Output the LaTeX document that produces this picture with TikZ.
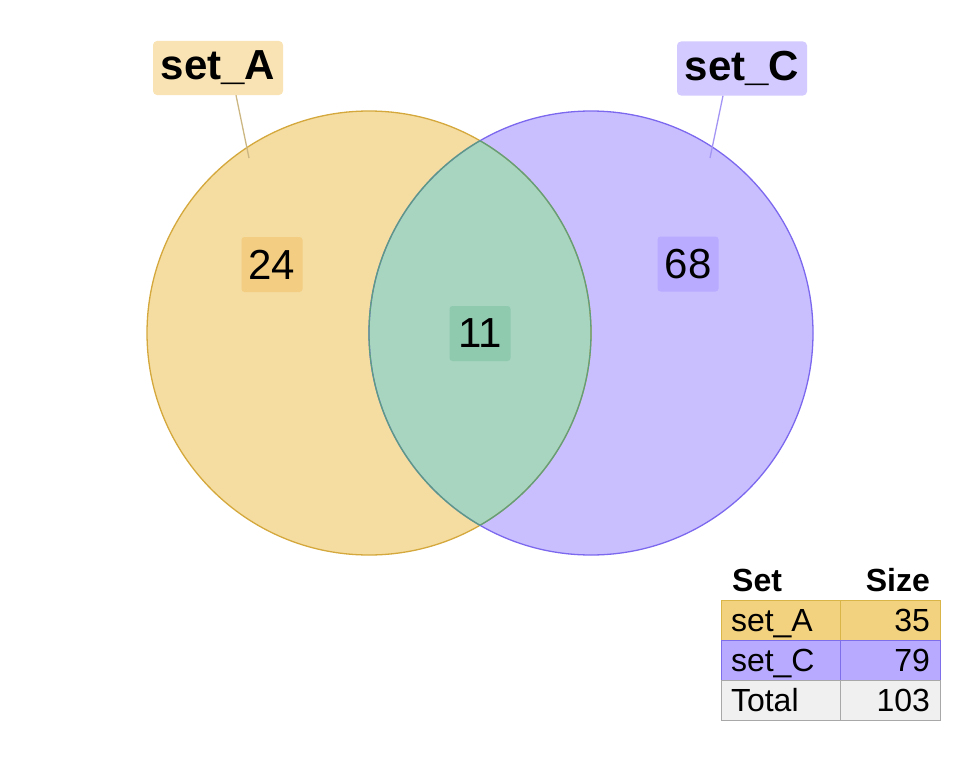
\documentclass[tikz,border=0pt]{standalone}
\usepackage{fontspec}
\setmainfont{Liberation Sans}
\usetikzlibrary{positioning}
\definecolor{afill}{HTML}{F5DCA0}
\definecolor{aline}{HTML}{D4A83C}
\definecolor{cfill}{HTML}{C9BFFF}
\definecolor{cline}{HTML}{7B68EE}
\definecolor{lensfill}{HTML}{A8D5C0}
\definecolor{lensline}{HTML}{5E9E80}
\definecolor{alabel}{HTML}{F9E3B4}
\definecolor{clabel}{HTML}{D3CBFF}
\definecolor{anum}{HTML}{F2CD82}
\definecolor{cnum}{HTML}{B9ABFF}
\definecolor{lensnum}{HTML}{8FC9AE}
\definecolor{arow}{HTML}{F3D27F}
\definecolor{arowline}{HTML}{D9B447}
\definecolor{crow}{HTML}{B8AAFF}
\definecolor{crowline}{HTML}{7F6EEA}
\definecolor{totrow}{HTML}{F0F0F0}
\definecolor{totline}{HTML}{A8A8A8}

\begin{document}
\begin{tikzpicture}[x=1pt,y=-1pt,
  numbox/.style={rounded corners=3pt,minimum width=61pt,minimum height=55pt,inner sep=0pt,font=\fontsize{42}{48}\selectfont},
  setlabel/.style={rounded corners=4pt,minimum width=130pt,minimum height=54pt,inner sep=0pt,font=\fontsize{42}{48}\selectfont\bfseries},
  cellL/.style={draw,outer sep=0pt,inner ysep=0pt,inner xsep=10pt,minimum height=40pt,text width=99pt,align=left,text height=23pt,text depth=0pt,font=\fontsize{32}{38}\selectfont},
  cellR/.style={cellL,text width=80pt,align=right},
  head/.style={inner sep=0pt,font=\fontsize{32}{38}\selectfont\bfseries}]
    \useasboundingbox (0,0) rectangle (960,768);
    % circles
    \fill[afill] (369,333) circle[radius=222pt];
    \fill[cfill] (591,333) circle[radius=222pt];
    \begin{scope}
        \clip (369,333) circle[radius=222pt];
        \fill[lensfill] (591,333) circle[radius=222pt];
    \end{scope}
    \draw[aline,line width=1.3pt] (369,333) circle[radius=222pt];
    \draw[cline,line width=1.3pt] (591,333) circle[radius=222pt];
    % lens edges
    \begin{scope}
        \clip (369,333) circle[radius=222pt];
        \draw[lensline,line width=1.3pt] (591,333) circle[radius=222pt];
    \end{scope}
    \begin{scope}
        \clip (591,333) circle[radius=222pt];
        \draw[lensline,line width=1.3pt] (369,333) circle[radius=222pt];
    \end{scope}
    % region counts
    \node[numbox,fill=anum] (nA) at (272,264.5) {24};
    \node[numbox,fill=cnum] (nC) at (688,264) {68};
    \node[numbox,fill=lensnum] (nAC) at (480,333.5) {11};
    % set labels
    \node[setlabel,fill=alabel] (labA) at (218,68) {set\_A};
    \node[setlabel,fill=clabel] (labC) at (742,68.5) {set\_C};
    \coordinate (tipA) at (249,158);
    \coordinate (tipC) at (710,158);
    \draw[aline!80!black!60,line width=1.3pt] ([xshift=18pt]labA.south) -- (tipA);
    \draw[cline!70,line width=1.3pt] ([xshift=-19pt]labC.south) -- (tipC);
    % table
    \node[head,anchor=base west] (hSet) at (732,591) {Set};
    \node[head,anchor=base east] (hSize) at (930,591) {Size};
    \node[cellL,fill=arow,draw=arowline] (a1) at (780.5,620) {set\_A};
    \node[cellR,fill=arow,draw=arowline,right=0pt of a1] (a2) {35};
    \node[cellL,fill=crow,draw=crowline,below=0pt of a1] (c1) {set\_C};
    \node[cellR,fill=crow,draw=crowline,right=0pt of c1] (c2) {79};
    \node[cellL,fill=totrow,draw=totline,below=0pt of c1] (t1) {Total};
    \node[cellR,fill=totrow,draw=totline,right=0pt of t1] (t2) {103};
\end{tikzpicture}
\end{document}
